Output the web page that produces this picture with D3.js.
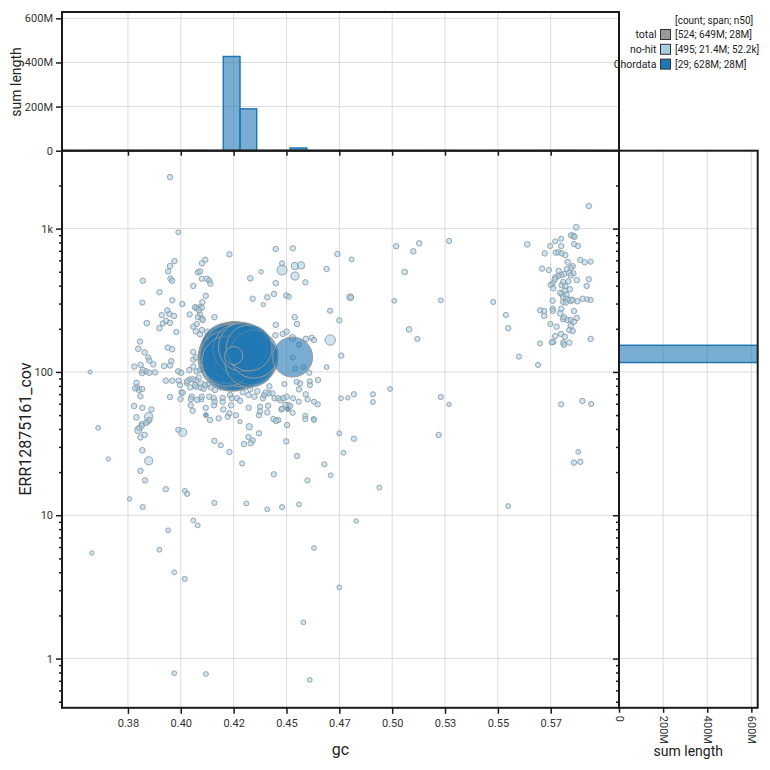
<!DOCTYPE html>
<html><head><meta charset="utf-8">
<script src="https://cdn.jsdelivr.net/npm/d3@7"></script>
<style>
html,body{margin:0;padding:0;background:#fff;}
svg{display:block;font-family:Roboto,"Noto Sans",sans-serif;}
</style></head><body>
<svg id="chart" width="770" height="770"></svg>
<script>
// ---------- data ----------
const xTickValues = [0.375,0.4,0.425,0.45,0.475,0.5,0.525,0.55,0.575];
const xTickLabels = ["0.38","0.40","0.42","0.45","0.47","0.50","0.53","0.55","0.57"];
const yTickValues = [1,10,100,1000];
const yTickLabels = ["1","10","100","1k"];
const yMinorTicks = [0.5,0.6,0.7,0.8,0.9,2,3,4,5,6,7,8,9,20,30,40,50,60,70,80,90,200,300,400,500,600,700,800,900,2000];
const histTickValues = [0,200e6,400e6,600e6];
const histTickLabels = ["0","200M","400M","600M"];
const legendHeader = "[count; span; n50]";
const legendNames = ["total","no-hit","Chordata"];
const legendStats = ["[524; 649M; 28M]","[495; 21.4M; 52.2k]","[29; 628M; 28M]"];
const legendColors = ["#999999","#a6cee3","#1f78b4"];

// Chordata: [gc, coverage, length in Mb]
const chordata = [
[0.4238,125,36.0],[0.4247,131,32.6],[0.4257,137,31.0],[0.4228,133,29.0],[0.4266,121,30.0],
[0.4223,142,24.0],[0.4252,142,26.0],[0.4271,129,28.0],[0.4214,127,22.0],[0.4242,117,27.0],
[0.4261,137,25.0],[0.4275,135,27.0],[0.4219,119,20.0],[0.4233,140,23.0],[0.4249,140,24.0],
[0.4273,144,20.4],[0.4250,130,2.0],
[0.4337,123,21],[0.4318,127,24],[0.4299,131,26],[0.4328,117,20],[0.4309,140,22],
[0.4285,121,23],[0.4346,133,18],[0.4294,149,19],[0.4323,147,16.5],
[0.4529,127,12.2],[0.4119,50,0.02],[0.4507,55,0.02]
];

// no-hit: [gc, coverage, length in kb]
const noHit = [
[0.3949,2290,40],[0.3988,943,20],
[0.5871,1021,60],[0.5846,898,40],[0.5857,892,50],[0.5862,875,40],[0.5799,850,30],[0.5771,816,30],[0.5747,756,30],[0.5639,777,50],[0.5860,780,30],[0.5879,756,30],[0.5800,756,40],
[0.5722,672,40],[0.5774,679,40],[0.5786,685,40],[0.5802,672,40],[0.5819,654,40],[0.5830,585,40],[0.5890,604,40],[0.5911,582,40],[0.5939,588,30],
[0.5854,548,40],[0.5845,533,40],[0.5827,523,40],[0.5709,526,40],[0.5741,514,30],[0.5788,508,40],[0.5838,492,40],[0.5813,482,40],[0.5800,474,40],[0.5785,467,40],[0.5772,457,40],[0.5769,443,40],
[0.5857,487,40],[0.5845,472,40],[0.5873,438,50],[0.5930,443,40],[0.5833,429,40],[0.5809,424,40],[0.5759,415,40],[0.5751,404,40],[0.5762,383,40],[0.5802,403,50],[0.5819,398,40],[0.5920,398,40],
[0.5841,377,40],[0.5817,369,40],[0.5794,357,40],[0.5803,350,50],[0.5825,346,40],[0.5809,332,50],[0.5825,321,100],[0.5845,316,100],[0.5854,318,40],[0.5876,311,40],[0.5901,324,40],[0.5923,321,30],[0.5939,318,30],
[0.5759,314,40],[0.5809,308,40],[0.5822,305,40],
[0.5700,269,40],[0.5719,266,40],[0.5719,246,40],[0.5759,276,40],[0.5760,267,40],[0.5800,276,40],[0.5860,266,40],[0.5795,256,50],[0.5813,241,40],[0.5809,234,50],[0.5830,230,40],[0.5845,230,40],[0.5873,238,40],[0.5860,224,40],
[0.5538,250,30],[0.5549,202,40],[0.5748,216,30],[0.5778,207,40],[0.5845,209,40],[0.5838,196,40],[0.5854,193,40],[0.5799,184,40],[0.5817,176,40],[0.5771,178,40],
[0.5762,162,40],[0.5755,161,40],[0.5809,160,40],[0.5813,155,40],[0.5838,160,40],[0.5939,170,40],[0.5699,158,30],[0.5600,128,30],
[0.5930,1437,40],[0.5478,308,30],[0.5690,112,30],[0.5799,59.4,30],[0.5900,62.7,40],[0.5941,59.8,30],[0.5860,23.3,40],[0.5890,23.6,40],[0.5880,27.7,20],[0.5549,11.6,20],
[0.4741,665,40],[0.4808,610,20],[0.5019,753,40],[0.5100,694,40],[0.5128,790,40],[0.5269,820,30],[0.5059,498,50],[0.4801,333,100],[0.4805,330,40],[0.5010,314,20],[0.5230,316,20],[0.4706,267,30],[0.4750,229,40],[0.4707,167,450],[0.4759,130,40],[0.5080,198,50],[0.5119,170,30],
[0.4758,65.5,20],[0.4790,66,10],[0.4819,69.8,40],[0.4909,69.8,30],[0.4909,61.7,20],[0.4990,76,20],[0.5230,66.9,30],[0.5269,59.4,10],
[0.5220,36.3,40],[0.4939,15.6,20],[0.4750,37.3,20],[0.4769,27.3,20],[0.4819,34.2,40],[0.4709,19.0,20],[0.4830,9.1,10],[0.4750,3.14,20],
[0.4230,662,40],[0.4449,721,40],[0.4530,729,40],[0.4479,514,400],[0.4540,548,150],[0.4569,554,150],[0.4540,467,200],[0.4479,573,30],[0.4589,422,40],[0.4690,523,40],[0.4449,417,40],[0.4499,342,40],[0.4511,335,30],[0.4441,350,40],[0.4409,332,40],[0.4390,295,10],[0.4340,324,40],[0.4329,450,50],[0.4380,500,10],
[0.4539,241,40],[0.4550,216,40],[0.4449,213,40],[0.4482,184,40],[0.4501,191,40],[0.4528,173,100],[0.4592,170,50],[0.4619,173,40],[0.4630,167,40],
[0.4447,180,40],[0.4690,108,20],[0.4608,98.6,30],[0.4649,87.8,40],[0.4610,86,30],[0.4611,81,30],[0.4559,155,30],[0.4530,126,30],[0.4542,106,30],[0.4580,108,30],[0.4559,75.6,40],[0.4531,65.5,30],[0.4558,62,30],[0.4591,69.8,40],[0.4600,64.4,40],[0.4630,62,30],[0.4648,59.4,30],[0.4548,85.4,30],[0.4490,82.4,30],[0.4589,49.4,30],[0.4589,46.9,30],[0.4629,46.9,30],[0.4518,57.8,30],[0.4529,51.9,30],[0.4479,55.4,30],[0.4495,59.0,30],
[0.3820,433,40],[0.3818,305,30],[0.3839,219,50],[0.3807,163,40],[0.3799,145,50],[0.3829,137,40],[0.3846,126,40],[0.3851,120,40],[0.3870,113,40],[0.3810,112,40],[0.3780,109,40],[0.3817,98.6,60],[0.3836,101,40],[0.3851,98.6,40],[0.3878,99.3,40],[0.3821,103,40],
[0.3899,360,40],[0.3910,249,40],[0.3915,218,40],[0.3930,227,40],[0.3949,220,40],[0.3946,254,40],[0.3936,269,40],[0.3968,246,40],[0.3899,202,40],[0.3960,316,40],[0.3970,594,40],[0.3949,548,50],[0.3940,503,40],[0.3951,447,40],[0.3959,433,40],[0.4007,298,40],[0.3979,190,40],[0.3938,148,40],[0.3959,144,40],[0.3955,119,40],
[0.4042,252,40],[0.4059,398,40],[0.4067,283,40],[0.4081,495,40],[0.4091,503,40],[0.4100,573,40],[0.4116,606,40],[0.4100,447,40],[0.4124,447,40],[0.4134,433,40],[0.4140,413,40],[0.4118,340,40],[0.4088,283,40],[0.4075,278,40],[0.4099,280,40],[0.4091,252,40],[0.4081,242,40],[0.4100,236,40],[0.4159,241,40],[0.4059,207,40],[0.4075,216,40],[0.4071,192,40],[0.4091,183,40],[0.4100,196,40],[0.4126,191,40],
[0.4059,122,40],[0.4059,109,40],[0.4075,101,40],[0.4091,103,40],[0.3988,101,40],[0.4002,98.6,40],[0.3929,86.8,40],[0.3960,86.8,40],[0.3990,86.8,40],[0.3949,66.9,40],[0.3999,64.8,40],[0.4044,88.7,40],[0.4028,84,40],[0.4003,72.1,40],
[0.3790,84,40],[0.3794,78,40],[0.3802,74.8,40],[0.3817,76,40],[0.3779,57.8,40],[0.3818,56.2,40],[0.3790,48.2,50],[0.3848,48.7,250],[0.3842,45,40],[0.3815,43.3,40],[0.3804,40.7,40],[0.3809,67.6,40],[0.3861,54.8,40],[0.3609,40.7,20],[0.3571,100,5],[0.3657,24.7,10],[0.3579,5.45,10],[0.3758,13.0,10],
[0.3921,110,40],[0.3949,111,40],[0.3784,76.8,40],[0.4072,87.8,40],[0.4097,83.2,40],[0.4096,77.5,40],[0.4052,67.2,40],[0.4134,67.2,40],[0.4059,138,40],[0.4102,307,40],[0.4085,270,40],[0.4104,230,40],[0.4072,126,40],[0.4040,103,40],[0.4059,88.7,40],[0.4085,91.6,40],[0.4044,78,40],[0.4072,78.8,40],
[0.4130,81.9,40],[0.4168,87.8,40],[0.4190,78,40],[0.4108,76.3,40],[0.4142,78,40],[0.4047,58.5,40],[0.4056,53.6,40],[0.4096,64.4,40],[0.4156,65.5,40],[0.4198,65.8,40],[0.4157,58.5,40],[0.4233,69,40],[0.4266,65.5,40],[0.4280,63,40],[0.4238,58.5,40],[0.4201,54.8,40],[0.4222,48.7,40],[0.4179,47.4,40],[0.4261,49.8,40],[0.4321,56.2,40],[0.4324,41.5,80],[0.4375,57.2,40],[0.4370,50,40],[0.4348,67.2,40],[0.4388,65.5,40],[0.4413,58.1,40],[0.4419,79.4,40],[0.4444,65.5,40],[0.4461,65.5,40],[0.4471,63.4,40],[0.4476,54.8,40],[0.4503,42.6,40],[0.4461,46.2,40],[0.4409,52.2,40],[0.4438,46.9,40],[0.4394,69,40],[0.4293,72.1,40],[0.4328,75.6,40],[0.4320,69,40],[0.4375,53,40],[0.4340,33.3,40],[0.4320,35.1,40],[0.4331,31.8,40],[0.4280,45,10],[0.4299,31.4,40],
[0.4009,71.6,40],[0.3996,81,40],[0.4031,86.4,40],[0.4067,81,40],[0.4115,81,40],[0.4048,64.8,40],[0.4078,63.7,40],[0.4118,56.2,40],[0.4138,46.2,40],[0.4160,62,40],[0.4198,62,40],[0.4241,65.5,40],[0.4230,51.4,40],[0.4099,67.2,40],
[0.4417,70.9,40],[0.4433,70.9,40],[0.4485,65.5,40],[0.4501,67.2,40],[0.4509,58.8,40],[0.4402,72,40],[0.4362,73.4,40],[0.4265,76.8,40],[0.4233,78.8,40],[0.4162,74.8,40],[0.4564,83.2,40],
[0.3799,39.3,150],[0.3815,42,40],[0.3836,44.2,40],[0.3851,46.2,40],[0.3809,34.9,40],[0.3829,36.4,40],[0.3818,28.4,50],[0.3848,24,200],[0.3809,20.4,40],[0.3831,17.5,40],[0.3988,39.5,30],[0.4009,37.9,200],[0.4159,33,40],[0.4189,30.8,30],[0.4230,27.6,40],[0.4370,37.3,40],[0.4290,23,30],[0.4451,45.5,40],[0.4499,32.8,40],[0.4550,25.9,40],[0.4440,19.3,40],[0.4599,17.5,30],[0.4679,22.7,30],[0.4630,46.2,20],
[0.3929,15.2,40],[0.4019,14.8,20],[0.4030,14.1,30],[0.3820,11.4,30],[0.4159,12.2,30],[0.4310,12.1,20],[0.4409,11.0,20],[0.4479,11.4,30],[0.4559,11.9,20],[0.4059,9.2,20],[0.4080,8.5,20],[0.3940,7.85,20],[0.3899,5.75,20],[0.3969,4.0,20],[0.4019,3.6,30],[0.4630,5.9,20],[0.4580,1.79,20],[0.3969,0.79,20],[0.4119,0.78,20],[0.4610,0.71,20]
];

// histogram binning (gc bins and log10 coverage bins)
const gcBinOrigin = 0.4201, gcBinWidth = 0.0079;
const covLogBinOrigin = 2.0656, covLogBinWidth = 0.1204;

// ---------- layout ----------
const mainL = 62, mainR = 619, mainT = 150.7, mainB = 707.8;
const topT = 12, rightR = 757.7;
const svg = d3.select("#chart");

const x = d3.scaleLinear().domain([0.3438, 0.6073]).range([mainL, mainR]);
const y = d3.scaleLog().domain([0.4535, 3497]).range([mainB, mainT]);
const rScale = d3.scaleSqrt().domain([0, 40e6]).range([1.7, 34.8]);

const points = [
  ...noHit.map(d => ({gc: d[0], cov: d[1], len: d[2] * 1e3, cat: "no-hit"})),
  ...chordata.map(d => ({gc: d[0], cov: d[1], len: d[2] * 1e6, cat: "Chordata"}))
];
const cats = ["no-hit", "Chordata"];
const fillOf = {"no-hit": "#a6cee3", "Chordata": "#1f78b4"};

// bins
const gcEdges = d3.range(-11, 25).map(i => gcBinOrigin + i * gcBinWidth);
const covEdges = d3.range(-23, 13).map(i => covLogBinOrigin + i * covLogBinWidth);
function sums(cat, acc, edges) {
  const pts = points.filter(p => p.cat === cat);
  const out = [];
  for (let i = 0; i < edges.length - 1; i++) {
    const s = d3.sum(pts.filter(p => acc(p) >= edges[i] && acc(p) < edges[i + 1]), p => p.len);
    if (s > 0) out.push({cat, x0: edges[i], x1: edges[i + 1], sum: s});
  }
  return out;
}
const gcBins = cats.flatMap(c => sums(c, p => p.gc, gcEdges));
const covBins = cats.flatMap(c => sums(c, p => Math.log10(p.cov), covEdges));
const histMax = d3.max([...gcBins, ...covBins], b => b.sum);
const hy = d3.scaleLinear().domain([0, histMax]).range([mainT, topT]);
const hx = d3.scaleLinear().domain([0, histMax]).range([mainR, rightR]);

const defs = svg.append("defs");
defs.append("clipPath").attr("id","clipTop").append("rect").attr("x",mainL).attr("y",topT).attr("width",mainR-mainL).attr("height",mainT-topT);
defs.append("clipPath").attr("id","clipMain").append("rect").attr("x",mainL).attr("y",mainT).attr("width",mainR-mainL).attr("height",mainB-mainT);
defs.append("clipPath").attr("id","clipRight").append("rect").attr("x",mainR).attr("y",mainT).attr("width",rightR-mainR).attr("height",mainB-mainT);

// ---------- grid ----------
const grid = svg.append("g").attr("stroke", "#dcdcdc").attr("stroke-width", 1);
xTickValues.forEach(v => {
  grid.append("line").attr("x1", x(v)).attr("x2", x(v)).attr("y1", topT).attr("y2", mainB);
});
yTickValues.forEach(v => {
  grid.append("line").attr("x1", mainL).attr("x2", rightR).attr("y1", y(v)).attr("y2", y(v));
});
histTickValues.slice(1).forEach(v => {
  grid.append("line").attr("x1", mainL).attr("x2", mainR).attr("y1", hy(v)).attr("y2", hy(v));
  grid.append("line").attr("x1", hx(v)).attr("x2", hx(v)).attr("y1", mainT).attr("y2", mainB);
});

// ---------- histograms ----------
svg.append("g").attr("clip-path", "url(#clipTop)")
  .selectAll("rect").data(gcBins).join("rect")
  .attr("x", d => x(d.x0)).attr("width", d => x(d.x1) - x(d.x0))
  .attr("y", d => hy(d.sum)).attr("height", d => hy(0) - hy(d.sum))
  .attr("fill", d => fillOf[d.cat]).attr("fill-opacity", 0.6)
  .attr("stroke", d => fillOf[d.cat]).attr("stroke-width", 1.5);

svg.append("g").attr("clip-path", "url(#clipRight)")
  .selectAll("rect").data(covBins).join("rect")
  .attr("x", hx(0)).attr("width", d => hx(d.sum) - hx(0))
  .attr("y", d => y(Math.pow(10, d.x1))).attr("height", d => y(Math.pow(10, d.x0)) - y(Math.pow(10, d.x1)))
  .attr("fill", d => fillOf[d.cat]).attr("fill-opacity", 0.6)
  .attr("stroke", d => fillOf[d.cat]).attr("stroke-width", 1.5);

// ---------- scatter ----------
const gPts = svg.append("g").attr("clip-path", "url(#clipMain)");
cats.forEach(c => {
  const data = points.filter(p => p.cat === c).sort((a, b) => b.len - a.len);
  gPts.append("g").selectAll("circle").data(data).join("circle")
    .attr("cx", d => x(d.gc)).attr("cy", d => y(d.cov)).attr("r", d => rScale(d.len))
    .attr("fill", fillOf[c]).attr("fill-opacity", c === "Chordata" ? 0.6 : 0.55)
    .attr("stroke", c === "Chordata" ? "#999" : "#8494a0")
    .attr("stroke-width", c === "Chordata" ? 1 : 0.8);
});

// ---------- frames ----------
const frame = svg.append("g").attr("fill", "none").attr("stroke", "#1a1a1a").attr("stroke-width", 2);
frame.append("rect").attr("x", mainL).attr("y", topT).attr("width", mainR - mainL).attr("height", mainT - topT);
frame.append("rect").attr("x", mainL).attr("y", mainT).attr("width", mainR - mainL).attr("height", mainB - mainT);
frame.append("rect").attr("x", mainR).attr("y", mainT).attr("width", rightR - mainR).attr("height", mainB - mainT);

// ---------- axes ----------
function styleAxis(g) {
  g.select(".domain").remove();
  g.selectAll(".tick line").attr("stroke", "#1a1a1a").attr("stroke-width", 1.5);
  g.selectAll(".tick text").attr("fill", "#333").style("font-size", "11px").style("font-family", "Roboto");
}
svg.append("g").attr("transform", `translate(0,${mainB})`)
  .call(d3.axisBottom(x).tickValues(xTickValues).tickFormat((d, i) => xTickLabels[i]).tickSize(6).tickPadding(5))
  .call(styleAxis);
svg.append("g").attr("transform", `translate(${mainL},0)`)
  .call(d3.axisLeft(y).tickValues(yTickValues).tickFormat((d, i) => yTickLabels[i]).tickSize(6).tickPadding(3))
  .call(styleAxis);
svg.append("g").attr("transform", `translate(${mainL},0)`)
  .call(d3.axisLeft(y).tickValues(yMinorTicks).tickFormat("").tickSize(3))
  .call(styleAxis);
// top histogram axes
svg.append("g").attr("transform", `translate(${mainL},0)`)
  .call(d3.axisLeft(hy).tickValues(histTickValues).tickFormat((d, i) => histTickLabels[i]).tickSize(6).tickPadding(3))
  .call(styleAxis);
svg.append("g").attr("transform", `translate(0,${mainT})`)
  .call(d3.axisBottom(x).tickValues(xTickValues).tickFormat("").tickSize(5))
  .call(styleAxis);
// right histogram axes
svg.append("g").attr("transform", `translate(${mainR},0)`)
  .call(d3.axisLeft(y).tickValues(yTickValues).tickFormat("").tickSize(6))
  .call(styleAxis);
svg.append("g").attr("transform", `translate(${mainR},0)`)
  .call(d3.axisLeft(y).tickValues(yMinorTicks).tickFormat("").tickSize(3))
  .call(styleAxis);
const rb = svg.append("g").attr("transform", `translate(0,${mainB})`)
  .call(d3.axisBottom(hx).tickValues(histTickValues).tickFormat((d, i) => histTickLabels[i]).tickSize(5))
  .call(styleAxis);
rb.selectAll(".tick text").attr("transform", "rotate(90)").attr("text-anchor", "start")
  .attr("x", 8).attr("y", 0).attr("dy", "0.35em");

// ---------- labels ----------
svg.append("text").attr("x", 340.5).attr("y", 755).attr("text-anchor", "middle")
  .style("font-size", "16px").attr("fill", "#222").text("gc");
svg.append("text").attr("transform", "translate(25,429) rotate(-90)").attr("text-anchor", "middle")
  .attr("dy", "0.35em").style("font-size", "16px").attr("fill", "#222").text("ERR12875161_cov");
svg.append("text").attr("transform", "translate(16.5,82) rotate(-90)").attr("text-anchor", "middle")
  .attr("dy", "0.35em").style("font-size", "14px").attr("fill", "#222").text("sum length");
svg.append("text").attr("x", 688.3).attr("y", 756).attr("text-anchor", "middle")
  .style("font-size", "14px").attr("fill", "#222").text("sum length");

// ---------- legend ----------
const lg = svg.append("g").style("font-size", "10px").attr("fill", "#222");
lg.append("text").attr("x", 675).attr("y", 20).attr("dy", "0.35em").text(legendHeader);
legendNames.forEach((n, i) => {
  const yy = 34.5 + i * 14.8;
  lg.append("text").attr("x", 656.5).attr("y", yy).attr("dy", "0.35em").attr("text-anchor", "end").style("font-size", "10.5px").text(n);
  lg.append("rect").attr("x", 660.5).attr("y", yy - 5).attr("width", 10).attr("height", 10)
    .attr("fill", legendColors[i]).attr("stroke", "#333").attr("stroke-width", 1);
  lg.append("text").attr("x", 675).attr("y", yy).attr("dy", "0.35em").text(legendStats[i]);
});
</script>
</body></html>
